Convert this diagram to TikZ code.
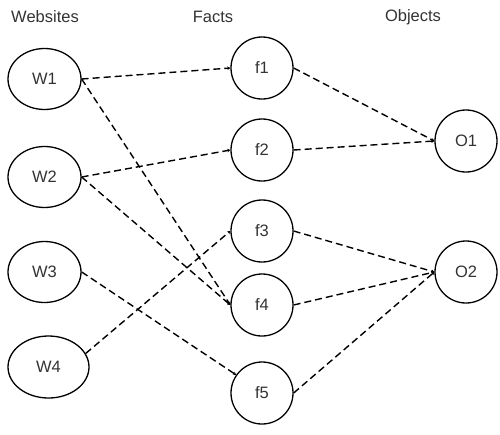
\documentclass[tikz,border=0pt]{standalone}
\usepackage{fontspec}
\setmainfont{Liberation Sans}
\usetikzlibrary{shapes.geometric,arrows.meta}
\begin{document}
\begin{tikzpicture}[x=1pt,y=-1pt,
  wnode/.style={draw,ellipse,line width=1.3pt,minimum width=73pt,minimum height=61pt,inner sep=0pt,font=\fontsize{16.5}{18}\selectfont,text=black!80},
  fnode/.style={draw,circle,line width=1.3pt,minimum size=62pt,inner sep=0pt,font=\fontsize{16.5}{18}\selectfont,text=black!80},
  head/.style={font=\fontsize{16.5}{18}\selectfont,text=black!80},
  link/.style={line width=1.4pt,dash pattern=on 7pt off 4pt,-{Stealth[length=3pt,width=3.5pt]}}]
\useasboundingbox (0,0) rectangle (500,434);
\node[head] (hw) at (45,17) {Websites};
\node[head] (hf) at (213,17) {Facts};
\node[head] (ho) at (413,17) {Objects};
\node[wnode] (w1) at (44.5,79) {W1};
\node[wnode] (w2) at (44.5,177) {W2};
\node[wnode] (w3) at (44.5,272) {W3};
\node[wnode,minimum width=81pt,minimum height=62pt] (w4) at (48.5,367) {W4};
\node[fnode] (f1) at (262,68) {f1};
\node[fnode] (f2) at (262,150) {f2};
\node[fnode] (f3) at (262,231) {f3};
\node[fnode] (f4) at (262,305) {f4};
\node[fnode] (f5) at (262,393) {f5};
\node[fnode] (o1) at (466,141) {O1};
\node[fnode] (o2) at (466,272) {O2};
\draw[link] (w1.east) -- (f1.west);
\draw[link] (w1.east) -- (f4.west);
\draw[link] (w2.east) -- (f2.west);
\draw[link] (w2.east) -- (f4.west);
\draw[link] (w3.east) -- (f5.145);
\draw[link] (w4.20) -- (f3.west);
\draw[link] (f1.east) -- (o1.west);
\draw[link] (f2.east) -- (o1.west);
\draw[link] (f3.east) -- (o2.west);
\draw[link] (f4.east) -- (o2.west);
\draw[link] (f5.east) -- (o2.west);
\end{tikzpicture}
\end{document}
